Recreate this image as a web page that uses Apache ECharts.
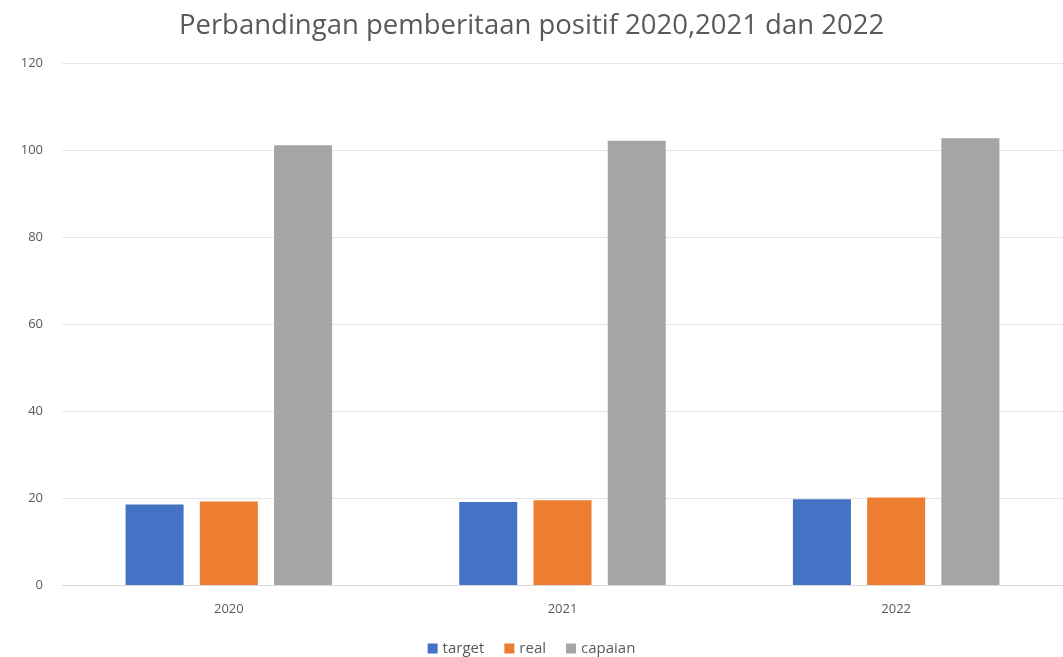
<!DOCTYPE html>
<html>
<head>
<meta charset="utf-8">
<script src="https://cdn.jsdelivr.net/npm/echarts@6/dist/echarts.min.js"></script>
<style>html,body{margin:0;padding:0;background:#fff}#c{width:1063px;height:657px}</style>
</head>
<body>
<div id="c"></div>
<script>
const categories = ['2020', '2021', '2022'];
const targetValues = [18.5, 19.1, 19.7];
const realValues = [19.2, 19.5, 20.1];
const capaianValues = [101.1, 102.1, 102.7];
const yTicks = [0, 20, 40, 60, 80, 100, 120];

const chart = echarts.init(document.getElementById('c'));
const font = 'Open Sans, Noto Sans, sans-serif';
chart.setOption({
  animation: false,
  title: {
    text: 'Perbandingan pemberitaan positif 2020,2021 dan 2022',
    left: 'center', top: 7,
    textStyle: { fontFamily: font, fontSize: 27.5, fontWeight: 'normal', color: '#595959' }
  },
  legend: {
    top: 636, left: 'center',
    itemWidth: 10, itemHeight: 10, itemGap: 20,
    icon: 'rect',
    textStyle: { fontFamily: font, fontSize: 15, color: '#595959' },
    data: ['target', 'real', 'capaian']
  },
  grid: { left: 62, right: 0, top: 63, bottom: 72 },
  xAxis: {
    type: 'category', data: categories,
    axisLine: { lineStyle: { color: '#d9d9d9' } },
    axisTick: { show: false },
    axisLabel: { fontFamily: font, fontSize: 13, color: '#595959', margin: 18 }
  },
  yAxis: {
    type: 'value', min: yTicks[0], max: yTicks[yTicks.length - 1], interval: 20,
    axisLine: { show: false }, axisTick: { show: false },
    splitLine: { lineStyle: { color: '#e6e6e6' } },
    axisLabel: { fontFamily: font, fontSize: 13, color: '#595959', margin: 19 }
  },
  series: [
    { name: 'target', type: 'bar', data: targetValues, barWidth: 58, barGap: '28%', itemStyle: { color: '#4472C4' } },
    { name: 'real', type: 'bar', data: realValues, barWidth: 58, barGap: '28%', itemStyle: { color: '#ED7D31' } },
    { name: 'capaian', type: 'bar', data: capaianValues, barWidth: 58, barGap: '28%', itemStyle: { color: '#A5A5A5' } }
  ]
});
</script>
</body>
</html>
